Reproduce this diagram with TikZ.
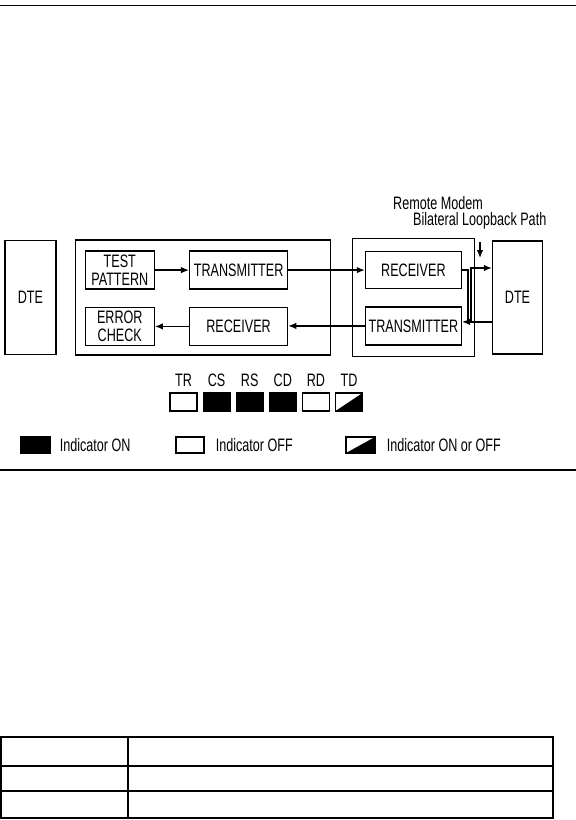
\documentclass[tikz,border=0pt]{standalone}
\usepackage{fontspec}
\setmainfont{Liberation Sans}[FakeStretch=0.7]
\usepackage{tikz}
\usetikzlibrary{arrows.meta,positioning}
\tikzset{
  unitbox/.style={
    draw=black,
    line width=1.3pt,
    align=center,
    inner sep=0pt,
    minimum height=38pt,
    font=\fontsize{18}{17.5}\selectfont
  },
  dtebox/.style={unitbox, minimum width=51pt, minimum height=114pt},
  modemframe/.style={draw=black, line width=1.1pt, inner sep=0pt},
  arrow/.style={-{Latex[length=8pt,width=6.5pt]}, line width=1.3pt},
  note/.style={inner sep=0pt, font=\fontsize{18}{17.5}\selectfont},
  lamp/.style={draw=black, line width=1.1pt, fill=white, inner sep=0pt,
    minimum width=27pt, minimum height=18pt},
  lampon/.style={lamp, fill=black},
  lampmixed/.style={lamp, path picture={
    \fill[black] (path picture bounding box.south west) --
      (path picture bounding box.south east) --
      (path picture bounding box.north east) -- cycle;}},
  rule/.style={line width=1.2pt}
}
\begin{document}
\begin{tikzpicture}[x=1pt, y=-1pt]
  \useasboundingbox (0,0) rectangle (576,820);
  \draw[rule] (0,5.5) -- (576,5.5);
  % local side
  \node[dtebox] (dtelocal) at (30.5,297.5) {DTE};
  \node[modemframe, minimum width=255pt, minimum height=115pt, right=18pt of dtelocal] (localmodem) {};
  \node[unitbox, minimum width=69pt, below right=11pt and 10pt of localmodem.north west] (pattern) {TEST\\PATTERN};
  \node[unitbox, minimum width=98pt, right=34pt of pattern] (txlocal) {TRANSMITTER};
  \node[unitbox, minimum width=69pt, below=17pt of pattern] (errcheck) {ERROR\\CHECK};
  \node[unitbox, minimum width=98pt, right=34pt of errcheck] (rxlocal) {RECEIVER};
  % remote side
  \node[modemframe, minimum width=122pt, minimum height=118pt, right=21pt of localmodem] (remotemodem) {};
  \node[unitbox, minimum width=96pt, minimum height=37pt, below right=13pt and 13pt of remotemodem.north west] (rxremote) {RECEIVER};
  \node[unitbox, minimum width=96pt, below=17pt of rxremote] (txremote) {TRANSMITTER};
  \node[dtebox, minimum width=50pt, minimum height=113pt, right=17pt of remotemodem] (dteremote) {DTE};
  \draw[arrow] (pattern) -- (txlocal);
  \draw[arrow] (txlocal.east) -- (txlocal.east -| rxremote.west);
  \draw[arrow] (txremote.west) -- (txremote.west -| rxlocal.east);
  \draw[arrow] (rxlocal) -- (errcheck);
  % loopback
  \draw[arrow] (rxremote.east) -- ++(6pt,0) |- ([yshift=4pt]txremote.east);
  \draw[arrow] ([yshift=-24.5pt]dteremote.west) -- ++(-21pt,0) |- ([yshift=29.5pt]dteremote.west);
  \node[note, anchor=west] (remotelabel) at (393,203) {Remote Modem};
  \node[note, anchor=west] (looplabel) at (413,221) {Bilateral Loopback Path};
  \coordinate (looptop) at (480,242);
  \coordinate (looptip) at (480,258);
  \draw[arrow] (looptop) -- (looptip);
  % indicators
  \node[lamp] (lampTR) at (183.5,402) {};
  \node[lampon, right=5pt of lampTR] (lampCS) {};
  \node[lampon, right=5pt of lampCS] (lampRS) {};
  \node[lampon, right=5pt of lampRS] (lampCD) {};
  \node[lamp, right=5pt of lampCD] (lampRD) {};
  \node[lampmixed, right=5pt of lampRD] (lampTD) {};
  \node[note, above=6pt of lampTR] (nameTR) {TR};
  \node[note, above=6pt of lampCS] (nameCS) {CS};
  \node[note, above=6pt of lampRS] (nameRS) {RS};
  \node[note, above=6pt of lampCD] (nameCD) {CD};
  \node[note, above=6pt of lampRD] (nameRD) {RD};
  \node[note, above=6pt of lampTD] (nameTD) {TD};
  % key
  \node[lampon, minimum width=29pt, minimum height=16pt] (keyon) at (35.5,445) {};
  \node[note, right=9pt of keyon] (keyontext) {Indicator ON};
  \node[lamp, minimum width=28pt, minimum height=16pt] (keyoff) at (190,445) {};
  \node[note, right=11pt of keyoff] (keyofftext) {Indicator OFF};
  \node[lampmixed, minimum width=29pt, minimum height=16pt] (keymixed) at (360.5,445) {};
  \node[note, right=11pt of keymixed] (keymixedtext) {Indicator ON or OFF};
  \draw[rule] (0,470) -- (576,470);
  % empty table
  \draw[line width=1.1pt] (1,737) rectangle (553,818);
  \draw[line width=1.1pt] (128,737) -- (128,818);
  \draw[line width=2.2pt] (1,766) -- (553,766);
  \draw[line width=1.1pt] (1,791) -- (553,791);
\end{tikzpicture}
\end{document}
